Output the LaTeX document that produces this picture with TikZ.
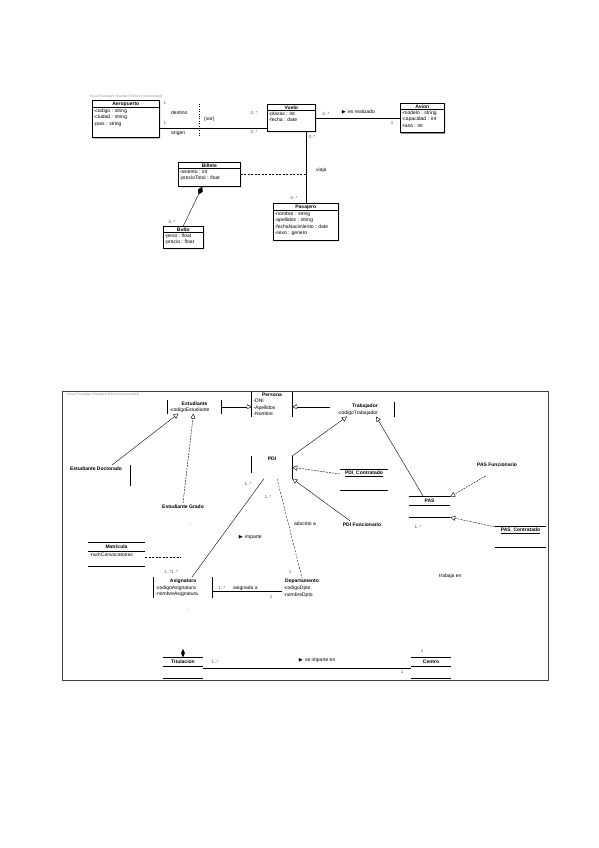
\documentclass[tikz,border=0pt]{standalone}
\usepackage{amssymb}
\usepackage{fontspec}
\setmainfont{Liberation Sans}
\usetikzlibrary{shapes.multipart, shapes.geometric, arrows.meta, shadows}

\newcommand{\padbelow}[1]{\rule[-#1]{0pt}{#1}}

\begin{document}
\begin{tikzpicture}[
    x=1pt, y=-1pt,
    every node/.style={font=\fontsize{5}{6.5}\selectfont, inner sep=1pt},
    umlclass/.style={
        rectangle split, rectangle split parts=2,
        rectangle split part align={center, left},
        draw, line width=0.6pt, fill=white, align=left, anchor=north west,
        inner xsep=1.5pt, inner ysep=1pt,
        drop shadow={shadow xshift=0.8pt, shadow yshift=-0.8pt, opacity=1, fill=black!70}
    },
    barclass/.style={
        rectangle split, rectangle split parts=2,
        rectangle split part align={center, left},
        align=left, anchor=north, inner xsep=1.5pt, inner ysep=1pt
    },
    clsname/.style={font=\fontsize{5}{6}\selectfont\bfseries, inner sep=0pt, minimum height=8pt},
    clsbar/.style={line width=0.9pt},
    clsline/.style={line width=0.9pt},
    mult/.style={text=black!65, font=\fontsize{4.5}{5}\selectfont, inner sep=0.5pt},
    header/.style={text=black!40, font=\fontsize{3.5}{4}\selectfont, anchor=west, inner sep=0pt},
    assoc/.style={line width=0.4pt},
    gen/.style={-{Triangle[open, length=5pt, width=5pt]}, line width=0.4pt},
    gendash/.style={gen, dash pattern=on 2pt off 1pt},
    dep/.style={dash pattern=on 2pt off 1.5pt, line width=0.4pt},
]
\useasboundingbox[fill=white] (0,0) rectangle (599,848);

% --- Vuelos (top diagram) ---
\node[header] (hdrtop) at (89,97) {Visual Paradigm Standard Edition(Universidad)};

\node[umlclass, minimum width=67pt] (aeropuerto) at (92,100)
    {\textbf{Aeropuerto}\nodepart{two}-codigo : string\\-ciudad : string\\-pais : string\padbelow{11pt}};
\node[umlclass, minimum width=48pt] (vuelo) at (267,104)
    {\textbf{Vuelo}\nodepart{two}-plazas : int\\-fecha : date\padbelow{8pt}};
\node[umlclass, minimum width=44pt] (avion) at (400,103)
    {\textbf{Avion}\nodepart{two}-modelo : string\\-capacidad : int\\-tasa : int\padbelow{4pt}};
\node[umlclass, minimum width=62pt] (billete) at (178,162)
    {\textbf{Billete}\nodepart{two}-asiento : int\\-precioTotal : float\padbelow{5pt}};
\node[umlclass, minimum width=40pt] (bulto) at (163,226)
    {\textbf{Bulto}\nodepart{two}-peso : float\\-precio : float\padbelow{3pt}};
\node[umlclass, minimum width=65pt] (pasajero) at (273,203)
    {\textbf{Pasajero}\nodepart{two}-nombre : string\\-apellidos : string\\-fechaNacimiento : date\\-sexo : genero\padbelow{4pt}};

% origen / destino
\coordinate (origenrow) at (0,128);
\draw[line width=0.9pt] (aeropuerto.east |- origenrow) -- (vuelo.west |- origenrow);
\coordinate (xortop) at (199,104);
\coordinate (xorbot) at (199,137);
\draw[dotted, line width=0.4pt] (xortop) -- (xorbot);
\node[mult, anchor=west] at (163,103) {1};
\node[anchor=west] at (170,113) {destino};
\node[anchor=west] at (203,119) {\{xor\}};
\node[mult, anchor=west] at (250,113) {0..*};
\node[mult, anchor=west] at (163,123) {1};
\node[anchor=west] at (170,133) {origen};
\node[mult, anchor=west] at (250,132) {0..*};

% es realizado
\draw[assoc] (vuelo.east) -- (vuelo.east -| avion.west);
\node[mult, anchor=west] at (322,114) {0..*};
\node[anchor=west] at (340,112) {$\blacktriangleright$ es realizado};
\node[mult] at (392,123) {1};

% viaja + billete
\draw[assoc] (pasajero.north) -- (pasajero.north |- vuelo.south);
\node[mult, anchor=west] at (308,137) {0..*};
\node[anchor=west] at (315,170) {viaja};
\node[mult, anchor=west] at (290,198) {0..*};
\draw[dep] (billete.east) -- (billete.east -| pasajero.north);
\draw[assoc, {Diamond[length=9pt, width=5pt, fill=black]}-] ([xshift=-7pt]billete.south) -- (bulto.north);
\node[mult, anchor=west] at (168,222) {0..*};

% --- Universidad (bottom diagram) ---
\draw[line width=1pt, black!75] (62,391) rectangle (548,680);
\node[header] (hdrbot) at (66,395) {Visual Paradigm Standard Edition(Universidad)};

\node[barclass, minimum width=40pt] (persona) at (272,392)
    {\textbf{Persona}\nodepart{two}-DNI\\-Apellidos\\-Nombre};
\draw[clsbar] (persona.north west) -- (persona.south west);
\draw[clsbar] (persona.north east) -- (persona.south east);

\node[barclass, minimum width=53pt] (estudiante) at (194.5,400)
    {\textbf{Estudiante}\nodepart{two}-codigoEstudiante};
\draw[clsbar] (estudiante.north west) -- (estudiante.south west);
\draw[clsbar] (estudiante.north east) -- (estudiante.south east);

\node[barclass, minimum width=58pt] (trabajador) at (365,402)
    {\textbf{Trabajador}\nodepart{two}-codigoTrabajador};
\draw[clsbar] (trabajador.north east) -- (trabajador.south east);

\node[barclass, minimum width=40pt, rectangle split empty part height=14pt] (pdi) at (272,456)
    {\textbf{PDI}\nodepart{two}};
\draw[clsbar] (pdi.north west) -- ([yshift=6pt]pdi.south west);
\draw[clsbar] (pdi.north east) -- (pdi.south east);

\node[barclass, minimum width=68pt, rectangle split empty part height=12pt] (estdoct) at (96,465)
    {\textbf{Estudiante Doctorado}\nodepart{two}};
\draw[clsbar] (estdoct.north east) -- (estdoct.south east);

\node[clsname] (estgrado) at (183,507) {Estudiante Grado};
\node[clsname] (pdifunc) at (362,525) {PDI Funcionario};
\node[clsname] (pasfunc) at (497,465) {PAS Funcionario};

\node[clsname, minimum width=48pt] (pdicontr) at (364,474) {\underline{PDI\_Contratado}};
\draw[clsline] (pdicontr.north west) -- (pdicontr.north east);
\draw[clsline] ([yshift=-12pt]pdicontr.south west) -- ([yshift=-12pt]pdicontr.south east);

\node[clsname, minimum width=41pt] (pas) at (429.5,501) {PAS};
\draw[clsline] (pas.north west) -- (pas.north east);
\draw[clsline] (pas.south west) -- (pas.south east);
\draw[clsline] ([yshift=-12pt]pas.south west) -- ([yshift=-12pt]pas.south east);

\node[clsname, minimum width=51pt] (pascontr) at (520.5,531) {\underline{PAS\_Contratado}};
\draw[clsline] (pascontr.north west) -- (pascontr.north east);
\draw[clsline] ([yshift=-12pt]pascontr.south west) -- ([yshift=-12pt]pascontr.south east);

\node[clsname, minimum width=57pt] (matricula) at (116.5,547) {Matricula};
\draw[clsline] (matricula.north west) -- (matricula.north east);
\draw[clsline] (matricula.south west) -- (matricula.south east);
\draw[clsline] ([yshift=-15pt]matricula.south west) -- ([yshift=-15pt]matricula.south east);
\node[anchor=north west, inner sep=1.5pt] (matattr) at (matricula.south west) {-numConvocatorias};

\node[barclass, minimum width=58pt] (asignatura) at (183,577)
    {\textbf{Asignatura}\nodepart{two}-codigoAsignatura\\-nombreAsignatura};
\draw[clsbar] (asignatura.north west) -- (asignatura.south west);
\draw[clsbar] (asignatura.north east) -- (asignatura.south east);

\node[barclass, minimum width=40pt] (departamento) at (302,578)
    {\textbf{Departamento}\nodepart{two}-codigoDpto\\-nombreDpto};

\node[clsname, minimum width=40pt] (titulacion) at (183,662) {Titulacion};
\draw[clsline] (titulacion.north west) -- (titulacion.north east);
\draw[clsline] (titulacion.south west) -- (titulacion.south east);
\draw[clsline] ([yshift=-12pt]titulacion.south west) -- ([yshift=-12pt]titulacion.south east);
\node[diamond, fill=black, inner sep=0pt, minimum width=4pt, minimum height=9pt,
      anchor=south] (titdiam) at (titulacion.north) {};

\node[clsname, minimum width=40pt] (centro) at (431,662) {Centro};
\draw[clsline] (centro.north west) -- (centro.north east);
\draw[clsline] (centro.south west) -- (centro.south east);
\draw[clsline] ([yshift=-12pt]centro.south west) -- ([yshift=-12pt]centro.south east);

% generalizations
\draw[gen] (estudiante.east) -- (estudiante.east -| persona.west);
\draw[gen, shorten <=6pt] (trabajador.west |- estudiante.east) -- (persona.east |- estudiante.east);
\draw[gen] ([xshift=16pt]estdoct.north) -- ([xshift=-16pt]estudiante.south);
\draw[gendash] (estgrado.north) -- ([xshift=-1pt]estudiante.south);
\draw[gen] (pdi.north east) -- ([xshift=-18pt]trabajador.south);
\draw[gen] ([xshift=-6pt]pas.north) -- ([xshift=11pt]trabajador.south);
\draw[gendash] (pdicontr.west) -- (pdi.east);
\draw[gen] ([xshift=-12pt]pdifunc.north) -- (pdi.south east);
\draw[gendash, shorten <=13pt] (pasfunc.south) -- (pas.north east);
\draw[gendash] (pascontr.north west) -- ([yshift=-12pt]pas.south east);

% associations
\draw[dep] ([xshift=5pt]pdi.south) -- (departamento.north);
\draw[assoc] ([xshift=-8pt]pdi.south) -- ([xshift=9pt]asignatura.north);
\coordinate (matend) at (181,557);
\draw[dep] (matricula.east |- matend) -- (matend);
\draw[assoc] ([yshift=-4pt]asignatura.east) -- ([yshift=-4pt]asignatura.east -| departamento.west);
\draw[assoc] ([yshift=-6pt]titulacion.east) -- ([yshift=-6pt]titulacion.east -| centro.west);

% labels
\node[mult] at (248,484) {1..*};
\node[mult] at (268,497) {1..*};
\node[anchor=west] at (293,524) {adscrito a};
\node[mult] at (290,572) {1};
\node[anchor=west] at (237,537) {$\blacktriangleright$ imparte};
\node[mult] at (171,572) {1..*1..*};
\node[mult] at (222,588) {1..*};
\node[anchor=west] at (232,588) {asignada a};
\node[mult] at (271,597) {1};
\node[mult] at (418,527) {1..*};
\node[anchor=west] at (438,576) {trabaja en};
\node[mult] at (215,662) {1..*};
\node[anchor=west] at (297,660) {$\blacktriangleright$ se imparte en};
\node[mult] at (422,651) {1};
\node[mult] at (402,672) {1};
\node at (190,525) {.};
\node at (189,610) {.};

\end{tikzpicture}
\end{document}
